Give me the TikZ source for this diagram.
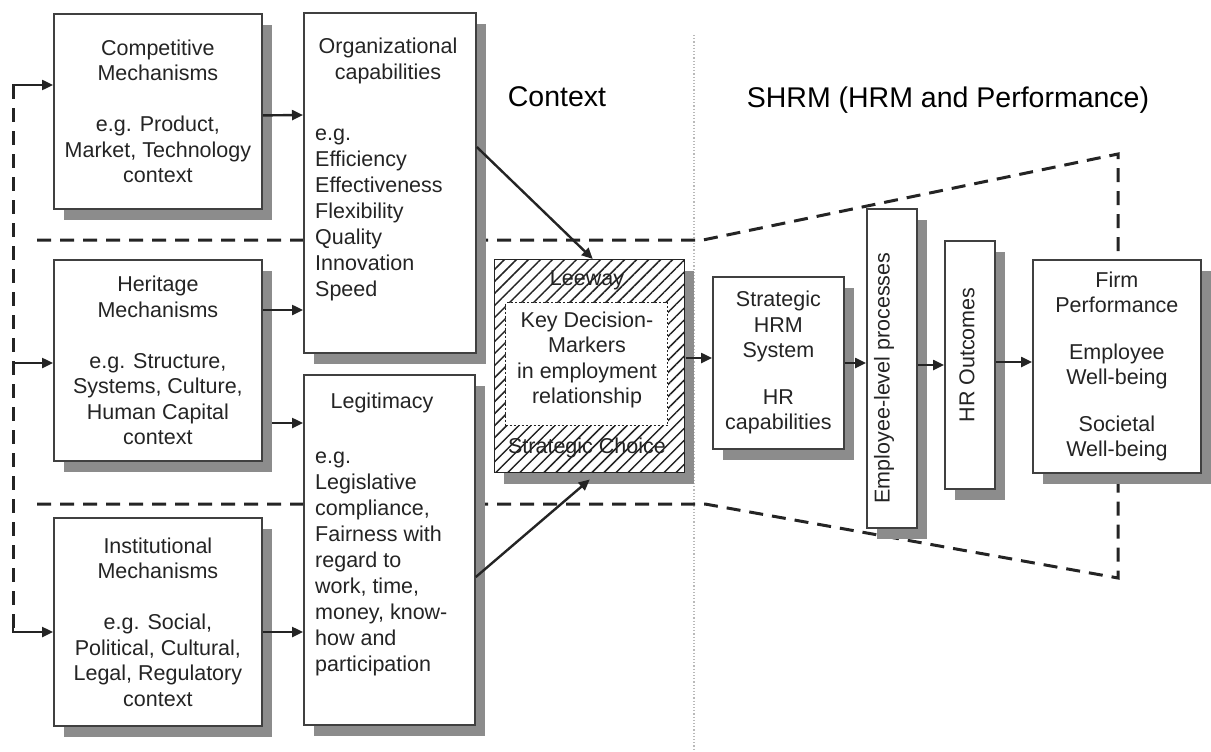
\documentclass[tikz,border=0pt]{standalone}
\usepackage{fontspec}
\setmainfont{Liberation Sans}
\usetikzlibrary{arrows.meta,shadows,patterns.meta,calc}
\definecolor{shadowgray}{HTML}{8C8C8C}
\definecolor{ink}{HTML}{242424}
\definecolor{edge}{HTML}{404040}
\begin{document}
\begin{tikzpicture}[x=1pt,y=-1pt,
  box/.style={draw=edge, line width=1.8pt, fill=white,
    general shadow={fill=shadowgray, shadow xshift=10pt, shadow yshift=-11pt},
    inner sep=0pt, anchor=north west, font=\fontsize{21.5}{25.5}\selectfont,
    text=ink, align=center},
  lbl/.style={font=\fontsize{21.5}{25.5}\selectfont, text=ink, inner sep=0pt},
  listtxt/.style={font=\fontsize{21.5}{26}\selectfont, text=ink, inner sep=0pt, align=left, anchor=west},
  title/.style={font=\fontsize{28.5}{32}\selectfont, text=black, inner sep=0pt},
  arr/.style={line width=2.4pt, draw=ink, -{Triangle[length=11pt,width=10pt]}},
  funnel/.style={line width=3pt, draw=ink, dash pattern=on 14pt off 9pt},
]
\useasboundingbox (0,0) rectangle (1211,752);

% divider
\draw[gray!55, line width=1.2pt, dotted] (694,35) -- (694,752);

% funnel / region separators (drawn first so boxes cover them)
\coordinate (tl) at (37,240);
\coordinate (tm) at (703,240);
\coordinate (tr) at (1118,154);
\coordinate (tf) at (1118,262);
\coordinate (bl) at (37,504);
\coordinate (bm) at (705,504);
\coordinate (br) at (1118,578);
\coordinate (bf) at (1118,470);
\draw[funnel] (tl) -- (tm) -- (tr) -- (tf);
\draw[funnel] (bl) -- (bm) -- (br) -- (bf);

% feedback line
\coordinate (fbT) at (13,85);
\coordinate (fbM) at (13,363);
\coordinate (fbB) at (13,632);
\draw[funnel] (fbT) -- (fbB);

% left boxes
\node[box, minimum width=208pt, minimum height=195pt] (comp) at (53,13)
  {Competitive\\Mechanisms\\[25.5pt]e.g. Product,\\Market, Technology\\context};
\node[box, minimum width=208pt, minimum height=201pt] (her) at (53,259)
  {Heritage\\Mechanisms\\[25.5pt]e.g. Structure,\\Systems, Culture,\\Human Capital\\context};
\node[box, minimum width=208pt, minimum height=208pt] (inst) at (53,517)
  {Institutional\\Mechanisms\\[25.5pt]e.g. Social,\\Political, Cultural,\\Legal, Regulatory\\context};

% middle boxes
\node[box, minimum width=172pt, minimum height=340pt] (org) at (303,12) {};
\node[lbl, align=center] (orgT) at (388,61) {Organizational\\capabilities};
\node[listtxt] (orgL) at (315,215) {e.g.\\Efficiency\\Effectiveness\\Flexibility\\Quality\\Innovation\\Speed};

\node[box, minimum width=171pt, minimum height=350pt] (legit) at (303,374) {};
\node[lbl] (legitT) at (382,403) {Legitimacy};
\node[listtxt] (legitL) at (315,564) {e.g.\\Legislative\\compliance,\\Fairness with\\regard to\\work, time,\\money, know-\\how and\\participation};

% hatched decision box
\node[draw=ink, line width=1.4pt, anchor=north west, inner sep=0pt,
  minimum width=190pt, minimum height=213pt,
  general shadow={fill=shadowgray, shadow xshift=9pt, shadow yshift=-11pt},
  preaction={fill=white},
  pattern={Lines[angle=45,distance=8.5pt,line width=1.5pt]}, pattern color=ink] (leeway) at (494,259) {};
\node[draw=ink, line width=1.2pt, dash pattern=on 2pt off 2pt, fill=white, anchor=north west,
  inner sep=0pt, minimum width=162pt, minimum height=123pt] (kdm) at (505,302) {};
\node[lbl, align=center] (kdmT) at (587,360) {Key Decision-\\Markers\\in employment\\relationship};
\node[lbl] (leewayT) at (587,280) {Leeway};
\node[lbl] (choiceT) at (587,448) {Strategic Choice};

% titles
\node[title] (ctx) at (557,97) {Context};
\node[title] (shrmT) at (948,100) {SHRM (HRM and Performance)};

% right boxes
\node[box, minimum width=131pt, minimum height=172pt] (shrm) at (712,276)
  {Strategic\\HRM\\System\\[21pt]HR\\capabilities};
\node[box, minimum width=50pt, minimum height=319pt] (emp) at (866,208) {};
\node[lbl, rotate=90] (empT) at (884,378) {Employee-level processes};
\node[box, minimum width=50pt, minimum height=248pt] (hro) at (944,240) {};
\node[lbl, rotate=90] (hroT) at (967,355) {HR Outcomes};
\node[box, minimum width=168pt, minimum height=213pt] (firm) at (1032,259)
  {Firm\\Performance\\[21pt]Employee\\Well-being\\[21pt]Societal\\Well-being};

% arrows
\draw[arr] ($(fbT)+(0,12)$) -- (fbT) -- (comp.west |- fbT);
\draw[arr] (fbM) -- (her.west |- fbM);
\draw[arr] ($(fbB)+(0,-8)$) -- (fbB) -- (inst.west |- fbB);
\draw[arr] ($(comp.east)+(0,4)$) -- (org.west |- 0,115);
\draw[arr] (her.east |- 0,310) -- (org.west |- 0,310);
\draw[arr] ($(her.east |- 0,423)+(9,0)$) -- (legit.west |- 0,423);
\draw[arr] (inst.east |- 0,632) -- (legit.west |- 0,632);
\draw[arr] ($(org.north east)+(0,135)$) -- ($(leeway.north)+(3,0)$);
\draw[arr] ($(legit.north east)+(0,203)$) -- ($(leeway.south)+(0,6)$);
\draw[arr] (leeway.east |- 0,358) -- (shrm.west |- 0,358);
\draw[arr] (shrm.east |- 0,363) -- (emp.west |- 0,363);
\draw[arr] (emp.east |- 0,365) -- (hro.west |- 0,365);
\draw[arr] (hro.east |- 0,362) -- (firm.west |- 0,362);
\end{tikzpicture}
\end{document}
